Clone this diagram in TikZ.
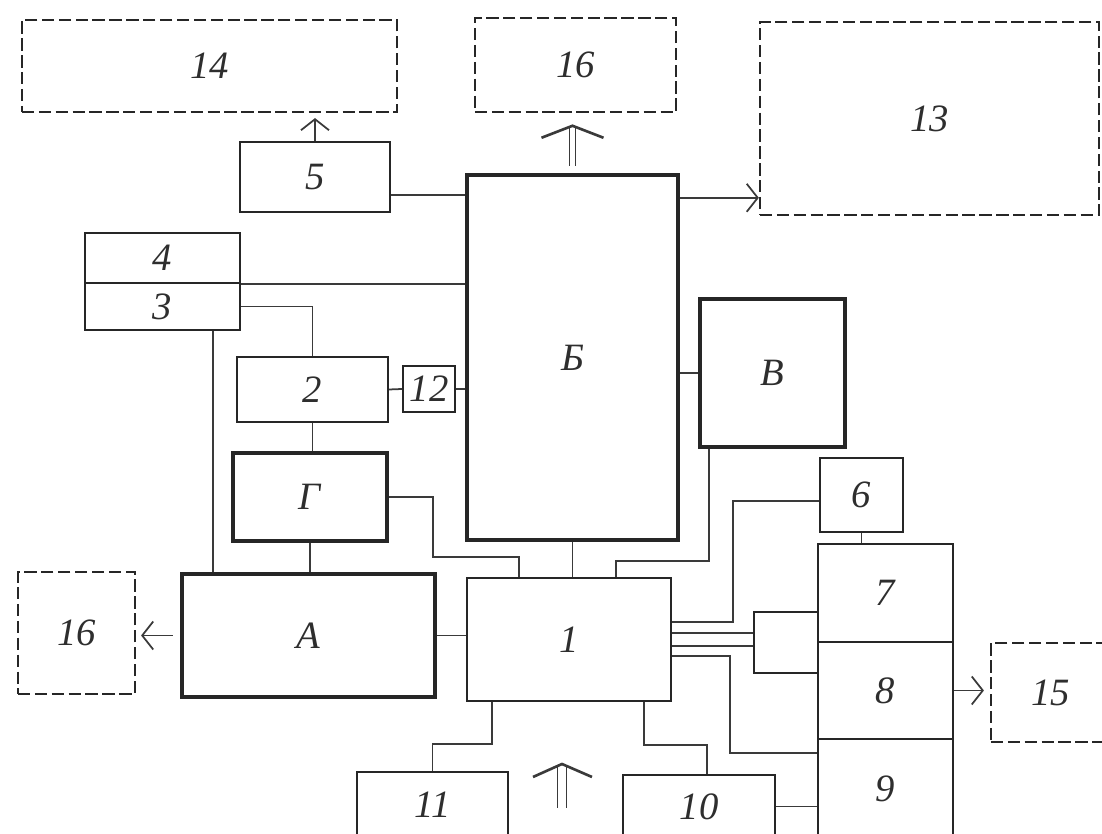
\documentclass[tikz,border=0pt]{standalone}
\usepackage{fontspec}
\setmainfont{Liberation Serif}
\usetikzlibrary{arrows.meta}
\definecolor{ScanInk}{HTML}{262626}
\definecolor{ScanWire}{HTML}{3A3A3A}
\definecolor{ScanText}{HTML}{2E2E2E}
\tikzset{
  unit/.style={draw=ScanInk,line width=0.55pt,inner sep=0pt,text=ScanText,
               font=\fontsize{11}{13}\selectfont\itshape},
  unitmain/.style={unit,line width=1.2pt},
  unitext/.style={unit,line width=0.6pt,dash pattern=on 3.5pt off 1.3pt},
  wire/.style={draw=ScanWire,line width=0.5pt},
  flow/.style={wire,-{Straight Barb[length=1.1mm,width=2.8mm]}},
  shaft/.style={draw=ScanWire,line width=0.5pt,double=white,double distance=1.2pt},
  chevron/.style={draw=ScanWire,line width=0.75pt},
}
\begin{document}
\begin{tikzpicture}[x=0.01cm,y=-0.01cm]
  \useasboundingbox (0,0) rectangle (1102,834);
  \clip (0,0) rectangle (1102,834);

  \node[unitext,minimum width=3.75cm,minimum height=0.92cm] (n14) at (209.5,66) {14};
  \node[unitext,minimum width=2.01cm,minimum height=0.94cm] (n16a) at (575.5,65) {16};
  \node[unitext,minimum width=3.39cm,minimum height=1.93cm] (n13) at (929.5,118.5) {13};
  \node[unit,minimum width=1.5cm,minimum height=0.7cm] (n5) at (315,177) {5};
  \node[unitmain,minimum width=2.11cm,minimum height=3.65cm] (nB) at (572.5,357.5) {Б};
  \node[unit,minimum width=1.55cm,minimum height=0.5cm] (n4) at (162.5,258) {4};
  \node[unit,minimum width=1.55cm,minimum height=0.47cm] (n3) at (162.5,306.5) {3};
  \node[unit,minimum width=1.51cm,minimum height=0.65cm] (n2) at (312.5,389.5) {2};
  \node[unit,minimum width=0.52cm,minimum height=0.46cm] (n12) at (429,389) {12};
  \node[unitmain,minimum width=1.54cm,minimum height=0.88cm] (nG) at (310,497) {Г};
  \node[unitmain,minimum width=2.53cm,minimum height=1.23cm] (nA) at (308.5,635.5) {А};
  \node[unitext,minimum width=1.17cm,minimum height=1.22cm] (n16b) at (76.5,633) {16};
  \node[unit,minimum width=2.04cm,minimum height=1.23cm] (n1) at (569,639.5) {1};
  \node[unitmain,minimum width=1.45cm,minimum height=1.48cm] (nV) at (772.5,373) {В};
  \node[unit,minimum width=0.83cm,minimum height=0.74cm] (n6) at (861.5,495) {6};
  \node[unit,minimum width=1.35cm,minimum height=0.98cm] (n7) at (885.5,593) {7};
  \node[unit,minimum width=1.35cm,minimum height=0.97cm] (n8) at (885.5,690.5) {8};
  \node[unit,minimum width=1.35cm,minimum height=0.99cm] (n9) at (885.5,788.5) {9};
  \node[unit,minimum width=0.64cm,minimum height=0.61cm] (nS) at (786,642.5) {};
  \node[unitext,minimum width=1.19cm,minimum height=0.99cm] (n15) at (1050.5,692.5) {15};
  \node[unit,minimum width=1.52cm,minimum height=0.63cm] (n10) at (699,806.5) {10};
  \node[unit,minimum width=1.51cm,minimum height=0.66cm] (n11) at (432.5,805) {11};

  \draw[wire] ([yshift=-.18cm]n5.east) -- ([yshift=-.18cm]n5.east -| nB.west);
  \draw[flow] ([yshift=-.25cm]nB.north east) -- ([yshift=-.25cm]nB.north east -| n13.west);
  \draw[flow] (n5.north) -- ([yshift=-.05cm]n5.north |- n14.south);
  \draw[wire] (n4.south east) -- (n4.south east -| nB.west);
  \draw[wire] (n3.east) -| (n2.north);
  \draw[wire] (n2.east) -- (n12.west);
  \draw[wire] (n12.east) -- (n12.east -| nB.west);
  \draw[wire] (n2.south) -- (n2.south |- nG.north);
  \draw[wire] ([xshift=-.28cm]n3.south east) -- ([xshift=-.28cm]n3.south east |- nA.north);
  \draw[wire] (nG.south) -- (nG.south |- nA.north);
  \draw[flow,shorten <=.07cm,shorten >=.05cm] (nA.west) -- (nA.west -| n16b.east);
  \draw[wire] (nA.east) -- (nA.east -| n1.west);
  \draw[wire] (nG.east) -- ++(44,0) |- ([xshift=-.5cm,yshift=.2cm]n1.north) -- ([xshift=-.5cm]n1.north);
  \draw[wire] (nB.south) -- (nB.south |- n1.north);
  \draw[wire] ([xshift=.11cm]nV.south west) |- ([xshift=.47cm,yshift=.16cm]n1.north) -- ([xshift=.47cm]n1.north);
  \draw[wire] (nV.west -| nB.east) -- (nV.west);
  \draw[wire] (n6.south) -- (n6.south |- n7.north);
  \draw[flow,shorten >=.06cm] (n8.east) -- (n8.east -| n15.west);
  \draw[wire] ([yshift=.175cm]n1.east) -- ++(61,0) |- ([yshift=-.06cm]n6.west);
  \draw[wire] ([yshift=.065cm]n1.east) -- ([yshift=.065cm]n1.east -| nS.west);
  \draw[wire] ([yshift=-.065cm]n1.east) -- ([yshift=-.065cm]n1.east -| nS.west);
  \draw[wire] ([yshift=-.165cm]n1.east) -- ++(58,0) |- ([yshift=-.15cm]n9.north west);
  \draw[wire] ([xshift=-.28cm]n1.south east) -- ++(0,43) -| ([xshift=.08cm]n10.north);
  \draw[wire] ([xshift=.26cm]n1.south west) -- ++(0,42) -| (n11.north);
  \draw[wire] (n10.east) -- (n10.east -| n9.west);

  \draw[shaft] (nB.north) ++(0,-7) -- ++(0,-40);
  \draw[chevron] (nB.north) ++(-31,-35) -- ++(31,-12) -- ++(31,12);

  \coordinate (inlet) at (562,808);
  \draw[shaft,double distance=2pt] (inlet) -- ++(0,-42);
  \draw[chevron] (inlet) ++(-29,-31) -- ++(29,-13) -- ++(30,13);
\end{tikzpicture}
\end{document}
